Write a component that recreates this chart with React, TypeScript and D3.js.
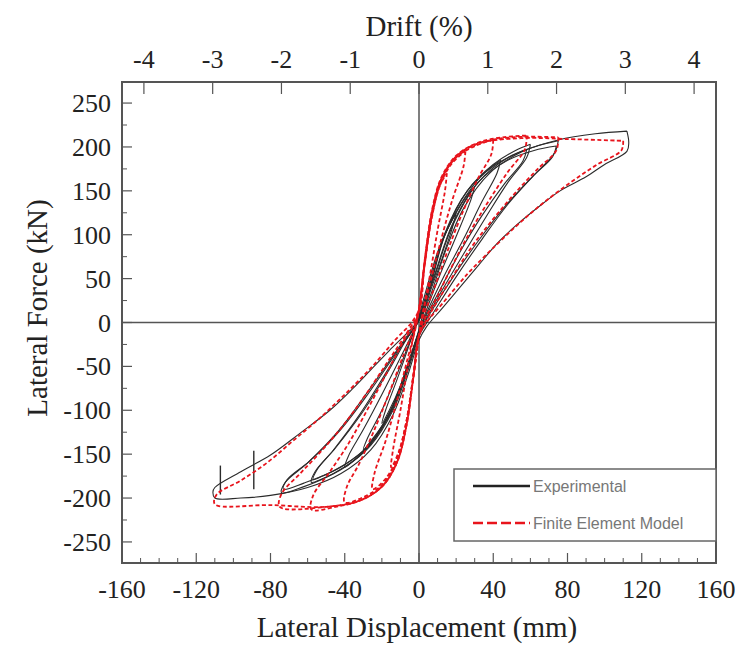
import React from "react";
import * as d3 from "d3";

type P = [number, number];

// ---- axis ticks ----
const xMajorTicks = [-160, -120, -80, -40, 0, 40, 80, 120, 160];
const yMajorTicks = [250, 200, 150, 100, 50, 0, -50, -100, -150, -200, -250];
const driftTicks = [-4, -3, -2, -1, 0, 1, 2, 3, 4];
const mmPerDriftPct = 37.05;

// ---- Experimental hysteresis loops (mm, kN) ----
const expCycle20: P[] = [[20,125],[18,108],[12,70],[6,35],[2,8],[0,-8],[-4,-35],[-10,-72],[-16,-100],[-20,-115],[-18,-100],[-12,-66],[-6,-30],[-2,-5],[0,8],[4,38],[10,80],[15,105],[20,125]];
const expCycle30: P[] = [[30,155],[28,140],[20,98],[12,58],[5,20],[0,-10],[-5,-42],[-12,-85],[-20,-118],[-26,-135],[-30,-145],[-28,-133],[-20,-100],[-12,-60],[-5,-22],[0,5],[5,40],[12,90],[20,125],[26,145],[30,155]];
const expCycle44: P[] = [[44,185],[42,170],[34,138],[24,95],[14,55],[6,20],[0,-10],[-6,-50],[-14,-95],[-24,-132],[-34,-155],[-40,-165],[-38,-152],[-30,-122],[-20,-82],[-10,-40],[-3,-10],[0,5],[6,45],[14,100],[24,140],[34,168],[44,185]];
const expCycle60: P[] = [[60,203],[58,188],[48,160],[36,120],[24,78],[12,35],[4,5],[0,-15],[-6,-55],[-14,-100],[-26,-140],[-40,-165],[-52,-178],[-58,-182],[-56,-170],[-46,-145],[-32,-105],[-18,-58],[-8,-22],[0,2],[6,40],[14,100],[26,150],[40,180],[52,196],[60,203]];
const expCycle60b: P[] = [[58,197],[56,184],[46,158],[34,122],[22,80],[10,32],[3,4],[0,-12],[-6,-52],[-14,-98],[-26,-138],[-40,-162],[-52,-175],[-57,-179],[-55,-168],[-45,-143],[-31,-104],[-17,-57],[-7,-20],[0,3],[6,42],[14,102],[26,150],[40,178],[52,192],[58,197]];
const expCycle75: P[] = [[75,207],[73,193],[62,168],[48,135],[34,95],[20,52],[8,12],[0,-15],[-6,-50],[-16,-105],[-30,-148],[-46,-172],[-62,-187],[-74,-194],[-72,-182],[-60,-160],[-44,-125],[-28,-80],[-14,-38],[-4,-8],[0,5],[8,50],[18,110],[32,160],[48,188],[62,200],[75,207]];
const expCycle75b: P[] = [[74,201],[72,189],[61,166],[47,134],[33,96],[19,54],[7,14],[0,-12],[-6,-48],[-16,-103],[-30,-146],[-46,-169],[-62,-183],[-73,-190],[-71,-179],[-59,-158],[-43,-124],[-27,-80],[-13,-37],[-3,-7],[0,6],[8,52],[18,112],[32,160],[48,185],[62,196],[74,201]];
const expCycle110: P[] = [[112,218],[113,205],[112,195],[100,180],[90,166],[76,150],[64,131],[52,110],[42,90],[32,65],[22,40],[12,15],[4,-5],[0,-20],[-6,-60],[-14,-105],[-26,-145],[-42,-172],[-60,-188],[-80,-197],[-96,-200],[-110,-200],[-111,-193],[-110,-188],[-96,-170],[-80,-151],[-64,-126],[-48,-100],[-36,-76],[-26,-54],[-16,-32],[-6.5,-12],[0,3],[6,30],[14,80],[24,130],[38,170],[56,195],[75,208],[95,215],[112,218]];
const expSpike1: P[] = [[-107,-163],[-107,-196]];
const expSpike2: P[] = [[-89,-146],[-89,-190]];

// ---- Finite element model loops (mm, kN) ----
const feCycle15: P[] = [[15,170],[14,150],[10,105],[6,55],[2,10],[0,-15],[-3,-60],[-7,-115],[-11,-148],[-15,-165],[-14,-145],[-10,-100],[-6,-50],[-2,-5],[0,15],[3,65],[7,120],[11,155],[15,170]];
const feCycle25: P[] = [[25,195],[24,178],[18,140],[12,95],[6,45],[2,10],[0,-15],[-3,-60],[-7,-115],[-12,-155],[-18,-178],[-25,-190],[-24,-172],[-18,-135],[-12,-90],[-6,-40],[-2,-8],[0,15],[3,65],[7,122],[12,160],[18,182],[25,195]];
const feCycle40: P[] = [[40,208],[39,192],[32,165],[24,128],[16,85],[8,38],[2,5],[0,-15],[-3,-60],[-7,-118],[-12,-158],[-20,-185],[-30,-199],[-40,-205],[-39,-188],[-32,-160],[-24,-122],[-16,-80],[-8,-35],[-2,-3],[0,15],[3,68],[7,125],[12,163],[20,188],[30,201],[40,208]];
const feCycle58: P[] = [[58,213],[57,197],[48,172],[38,140],[28,105],[18,65],[8,22],[2,0],[0,-15],[-3,-62],[-7,-120],[-12,-160],[-20,-187],[-32,-203],[-45,-210],[-58,-213],[-57,-197],[-48,-170],[-38,-138],[-28,-100],[-18,-60],[-8,-20],[-2,0],[0,15],[3,70],[7,128],[12,165],[20,190],[32,205],[45,211],[58,213]];
const feCycle75: P[] = [[75,211],[74,196],[64,175],[52,148],[40,118],[28,85],[16,45],[6,10],[0,-15],[-3,-62],[-7,-120],[-12,-160],[-20,-187],[-32,-203],[-50,-210],[-75,-210],[-74,-195],[-64,-172],[-52,-145],[-40,-115],[-28,-80],[-16,-42],[-6,-10],[0,12],[3,66],[7,124],[12,163],[20,189],[32,204],[50,211],[75,211]];
const feCycle110: P[] = [[110,207],[109,196],[96,180],[82,160],[68,138],[54,113],[40,85],[26,55],[12,20],[4,0],[0,-15],[-3,-62],[-7,-120],[-12,-160],[-20,-187],[-32,-203],[-50,-210],[-80,-208],[-110,-207],[-109,-196],[-96,-180],[-82,-160],[-68,-135],[-54,-110],[-40,-82],[-26,-52],[-12,-18],[-4,0],[0,15],[3,68],[7,125],[12,163],[20,189],[32,204],[55,210],[80,209],[110,207]];

const expLoops = [expCycle20, expCycle30, expCycle44, expCycle60, expCycle60b, expCycle75, expCycle75b, expCycle110];
const expSpikes = [expSpike1, expSpike2];
const feLoops = [feCycle15, feCycle25, feCycle40, feCycle58, feCycle75, feCycle110];

const legendLabels = ["Experimental", "Finite Element Model"];

export default function App() {
  const L = 122, R = 716, T = 82, B = 563;
  const x = d3.scaleLinear().domain([-160, 160]).range([L, R]);
  const y = d3.scaleLinear().domain([-274, 274]).range([B, T]);
  const drift = d3.scaleLinear().domain([-160 / mmPerDriftPct, 160 / mmPerDriftPct]).range([L, R]);

  const line = d3.line<P>().x(d => x(d[0])).y(d => y(d[1])).curve(d3.curveCatmullRom.alpha(0.5));
  const straight = d3.line<P>().x(d => x(d[0])).y(d => y(d[1]));

  const xMinor = d3.range(-150, 160, 10).filter(v => v % 40 !== 0);
  const yMinor = d3.range(-275, 276, 25).filter(v => v % 50 !== 0 && v > -274 && v < 274);

  const serif = "'Liberation Serif', 'Times New Roman', serif";
  const axisColor = "#555";

  return (
    <svg width={740} height={648} style={{ position: "absolute", left: 0, top: 0, background: "#fff" }}>
      <rect x={0} y={0} width={740} height={648} fill="#fff" />
      {/* zero lines */}
      <line x1={L} x2={R} y1={y(0)} y2={y(0)} stroke={axisColor} strokeWidth={1.5} />
      <line x1={x(0)} x2={x(0)} y1={T} y2={B} stroke={axisColor} strokeWidth={1.5} />

      {/* experimental */}
      <g fill="none" stroke="#2b2b2b" strokeWidth={1.1}>
        {expLoops.map((d, i) => <path key={i} d={line(d) || ""} />)}
        {expSpikes.map((d, i) => <path key={"s" + i} d={straight(d) || ""} strokeWidth={1.4} />)}
      </g>
      {/* FE model */}
      <g fill="none" stroke="#e8141c" strokeWidth={1.8} strokeDasharray="4 2.5">
        {feLoops.map((d, i) => <path key={i} d={line(d) || ""} />)}
      </g>

      {/* frame */}
      <rect x={L} y={T} width={R - L} height={B - T} fill="none" stroke={axisColor} strokeWidth={2} />

      {/* bottom ticks */}
      {xMajorTicks.map(v => (
        <g key={"xb" + v}>
          <line x1={x(v)} x2={x(v)} y1={B} y2={B - 10} stroke={axisColor} strokeWidth={1.2} />
          <text x={x(v)} y={598} textAnchor="middle" fontFamily={serif} fontSize={26} fill="#222">{v}</text>
        </g>
      ))}
      {xMinor.map(v => (
        <line key={"xm" + v} x1={x(v)} x2={x(v)} y1={B} y2={B - 5} stroke={axisColor} strokeWidth={1} />
      ))}
      {/* left ticks */}
      {yMajorTicks.map(v => (
        <g key={"yl" + v}>
          <line x1={L} x2={L + 10} y1={y(v)} y2={y(v)} stroke={axisColor} strokeWidth={1.2} />
          <text x={111} y={y(v) + 9} textAnchor="end" fontFamily={serif} fontSize={26} fill="#222">{v}</text>
        </g>
      ))}
      {yMinor.map(v => (
        <line key={"ym" + v} x1={L} x2={L + 5} y1={y(v)} y2={y(v)} stroke={axisColor} strokeWidth={1} />
      ))}
      {/* top drift ticks */}
      {driftTicks.map(v => (
        <g key={"dt" + v}>
          <line x1={drift(v)} x2={drift(v)} y1={T} y2={T + 12} stroke={axisColor} strokeWidth={1.2} />
          <text x={drift(v)} y={68} textAnchor="middle" fontFamily={serif} fontSize={26} fill="#222">{v}</text>
        </g>
      ))}

      {/* titles */}
      <text x={419} y={36} textAnchor="middle" fontFamily={serif} fontSize={29} fill="#222">Drift (%)</text>
      <text x={417} y={637} textAnchor="middle" fontFamily={serif} fontSize={29} fill="#222">Lateral Displacement (mm)</text>
      <text transform={`translate(47, 308) rotate(-90)`} textAnchor="middle" fontFamily={serif} fontSize={29} fill="#222">Lateral Force (kN)</text>

      {/* legend */}
      <g>
        <rect x={454} y={469} width={262} height={72} fill="#fff" stroke="#666" strokeWidth={1.5} />
        <line x1={473} x2={530} y1={486} y2={486} stroke="#222" strokeWidth={2.5} />
        <text x={533} y={492} fontFamily="'Liberation Sans', Arial, sans-serif" fontSize={16} fill="#777">{legendLabels[0]}</text>
        <line x1={473} x2={530} y1={523} y2={523} stroke="#e8141c" strokeWidth={2.5} strokeDasharray="10 4" />
        <text x={533} y={529} fontFamily="'Liberation Sans', Arial, sans-serif" fontSize={16} fill="#777">{legendLabels[1]}</text>
      </g>
    </svg>
  );
}
